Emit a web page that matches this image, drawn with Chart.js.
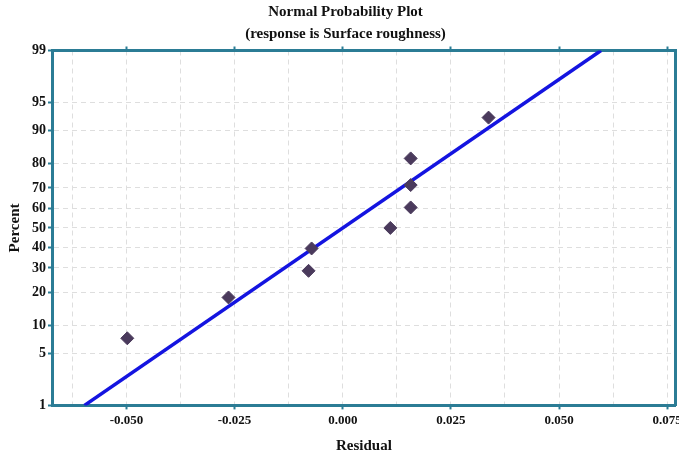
<!DOCTYPE html>
<html>
<head>
<meta charset="utf-8">
<script src="https://cdn.jsdelivr.net/npm/chart.js@4"></script>
<style>
  html, body { margin: 0; padding: 0; background: #fff; overflow: hidden; }
  #wrap { width: 685px; height: 456px; }
</style>
</head>
<body>
<div id="wrap"><canvas id="chart"></canvas></div>
<script>
// residuals (x) and plotting percents (y)
const residuals = [-0.0498, -0.0264, -0.0079, -0.0072, 0.0110, 0.0157, 0.0157, 0.0157, 0.0337];
const percents = [7.4, 18.1, 28.7, 39.4, 50.0, 60.6, 71.3, 81.9, 92.6];

// fitted normal line end points
const fitResiduals = [-0.0597, 0.0597];
const fitPercents = [1, 99];

const percentTicks = [1, 5, 10, 20, 30, 40, 50, 60, 70, 80, 90, 95, 99];
const residualTicks = [-0.0625, -0.05, -0.0375, -0.025, -0.0125, 0, 0.0125, 0.025, 0.0375, 0.05, 0.0625, 0.075];

const teal = '#2b7c95';
const serif = '"Liberation Serif", "Times New Roman", serif';

// inverse normal cdf (Acklam)
function probit(p) {
  const a = [-39.69683028665376, 220.9460984245205, -275.9285104469687, 138.3577518672690, -30.66479806614716, 2.506628277459239];
  const b = [-54.47609879822406, 161.5858368580409, -155.6989798598866, 66.80131188771972, -13.28068155288572];
  const c = [-0.007784894002430293, -0.3223964580411365, -2.400758277161838, -2.549732539343734, 4.374664141464968, 2.938163982698783];
  const d = [0.007784695709041462, 0.3224671290700398, 2.445134137142996, 3.754408661907416];
  const pl = 0.02425;
  let q, r;
  if (p < pl) {
    q = Math.sqrt(-2 * Math.log(p));
    return (((((c[0]*q+c[1])*q+c[2])*q+c[3])*q+c[4])*q+c[5]) / ((((d[0]*q+d[1])*q+d[2])*q+d[3])*q+1);
  }
  if (p > 1 - pl) {
    q = Math.sqrt(-2 * Math.log(1 - p));
    return -(((((c[0]*q+c[1])*q+c[2])*q+c[3])*q+c[4])*q+c[5]) / ((((d[0]*q+d[1])*q+d[2])*q+d[3])*q+1);
  }
  q = p - 0.5;
  r = q * q;
  return (((((a[0]*r+a[1])*r+a[2])*r+a[3])*r+a[4])*r+a[5])*q / (((((b[0]*r+b[1])*r+b[2])*r+b[3])*r+b[4])*r+1);
}

function normCdf(z) {
  const t = 1 / (1 + 0.2316419 * Math.abs(z));
  const y = 0.3989423 * Math.exp(-z * z / 2) * t * (0.3193815 + t * (-0.3565638 + t * (1.781478 + t * (-1.821256 + t * 1.330274))));
  return z > 0 ? 1 - y : y;
}

// probability (probit) scale for the percent axis
class ProbitScale extends Chart.Scale {
  determineDataLimits() {
    this.min = this.options.min;
    this.max = this.options.max;
  }
  buildTicks() {
    return percentTicks.map(v => ({ value: v }));
  }
  getLabelForValue(v) {
    return String(v);
  }
  configure() {
    super.configure();
    this._zMin = probit(this.min / 100);
    this._zMax = probit(this.max / 100);
  }
  getPixelForValue(v) {
    const z = probit(v / 100);
    return this.getPixelForDecimal((z - this._zMin) / (this._zMax - this._zMin));
  }
  getValueForPixel(px) {
    const dec = this.getDecimalForPixel(px);
    return normCdf(this._zMin + dec * (this._zMax - this._zMin)) * 100;
  }
}
ProbitScale.id = 'probit';
ProbitScale.defaults = {};
Chart.register(ProbitScale);

const isMajor = v => Math.abs(Math.round(v / 0.025) * 0.025 - v) < 1e-9;

const titleFont = { family: serif, size: 15, weight: 'bold' };

new Chart(document.getElementById('chart'), {
  type: 'scatter',
  data: {
    datasets: [
      {
        label: 'Residuals',
        data: residuals.map((r, i) => ({ x: r, y: percents[i] })),
        pointStyle: 'rectRot',
        pointRadius: 6.5,
        pointHoverRadius: 6.5,
        backgroundColor: '#4a3a5c',
        borderColor: '#4a3a5c',
        borderWidth: 1,
        order: 0
      },
      {
        label: 'Fit',
        data: fitResiduals.map((r, i) => ({ x: r, y: fitPercents[i] })),
        showLine: true,
        pointRadius: 0,
        borderColor: '#1414e0',
        borderWidth: 3.5,
        order: 1
      }
    ]
  },
  options: {
    responsive: true,
    maintainAspectRatio: false,
    animation: false,
    layout: { padding: { left: 6, right: 0, top: 0, bottom: 1 } },
    plugins: {
      legend: { display: false },
      tooltip: { enabled: false },
      title: {
        display: true,
        text: ['Normal Probability Plot', '(response is Surface roughness)'],
        font: { family: serif, size: 15, weight: 'bold', lineHeight: 1.45 },
        color: '#111',
        padding: { top: 1, bottom: 2 }
      }
    },
    scales: {
      x: {
        type: 'linear',
        min: -0.0672,
        max: 0.077,
        afterBuildTicks: axis => { axis.ticks = residualTicks.map(v => ({ value: v })); },
        ticks: {
          font: { family: serif, size: 13, weight: 'bold' },
          color: '#111',
          padding: 3,
          maxRotation: 0,
          autoSkip: false,
          callback: v => (isMajor(v) ? v.toFixed(3) : '')
        },
        grid: {
          color: '#dedede',
          tickBorderDash: [],
          tickColor: ctx => (ctx.tick && isMajor(ctx.tick.value) ? teal : 'rgba(0,0,0,0)'),
          tickWidth: 2,
          tickLength: 4
        },
        border: { color: teal, width: 3, dash: [5, 4] },
        title: { display: true, text: 'Residual', font: titleFont, color: '#111', padding: { top: 6, bottom: 0 } }
      },
      x2: {
        type: 'linear',
        position: 'top',
        min: -0.0672,
        max: 0.077,
        afterBuildTicks: axis => { axis.ticks = residualTicks.map(v => ({ value: v })); },
        ticks: { display: false, autoSkip: false },
        grid: {
          drawOnChartArea: false,
          tickColor: ctx => (ctx.tick && isMajor(ctx.tick.value) ? teal : 'rgba(0,0,0,0)'),
          tickWidth: 2,
          tickLength: 4
        },
        border: { color: teal, width: 3 }
      },
      y: {
        type: 'probit',
        min: 1,
        max: 99,
        ticks: { font: { family: serif, size: 14, weight: 'bold' }, color: '#111', padding: 2, autoSkip: false, callback: v => String(v) },
        grid: {
          color: ctx => (ctx.tick && (ctx.tick.value === 1 || ctx.tick.value === 99) ? 'rgba(0,0,0,0)' : '#dedede'),
          tickBorderDash: [],
          tickColor: teal,
          tickWidth: 2,
          tickLength: 4
        },
        border: { color: teal, width: 3, dash: [5, 4] },
        title: { display: true, text: 'Percent', font: titleFont, color: '#111', padding: { top: 0, bottom: 6 } }
      },
      y2: {
        type: 'linear',
        position: 'right',
        min: 0,
        max: 1,
        ticks: { display: false },
        grid: { drawOnChartArea: false, drawTicks: false },
        border: { color: teal, width: 3 }
      }
    }
  }
});
</script>
</body>
</html>
